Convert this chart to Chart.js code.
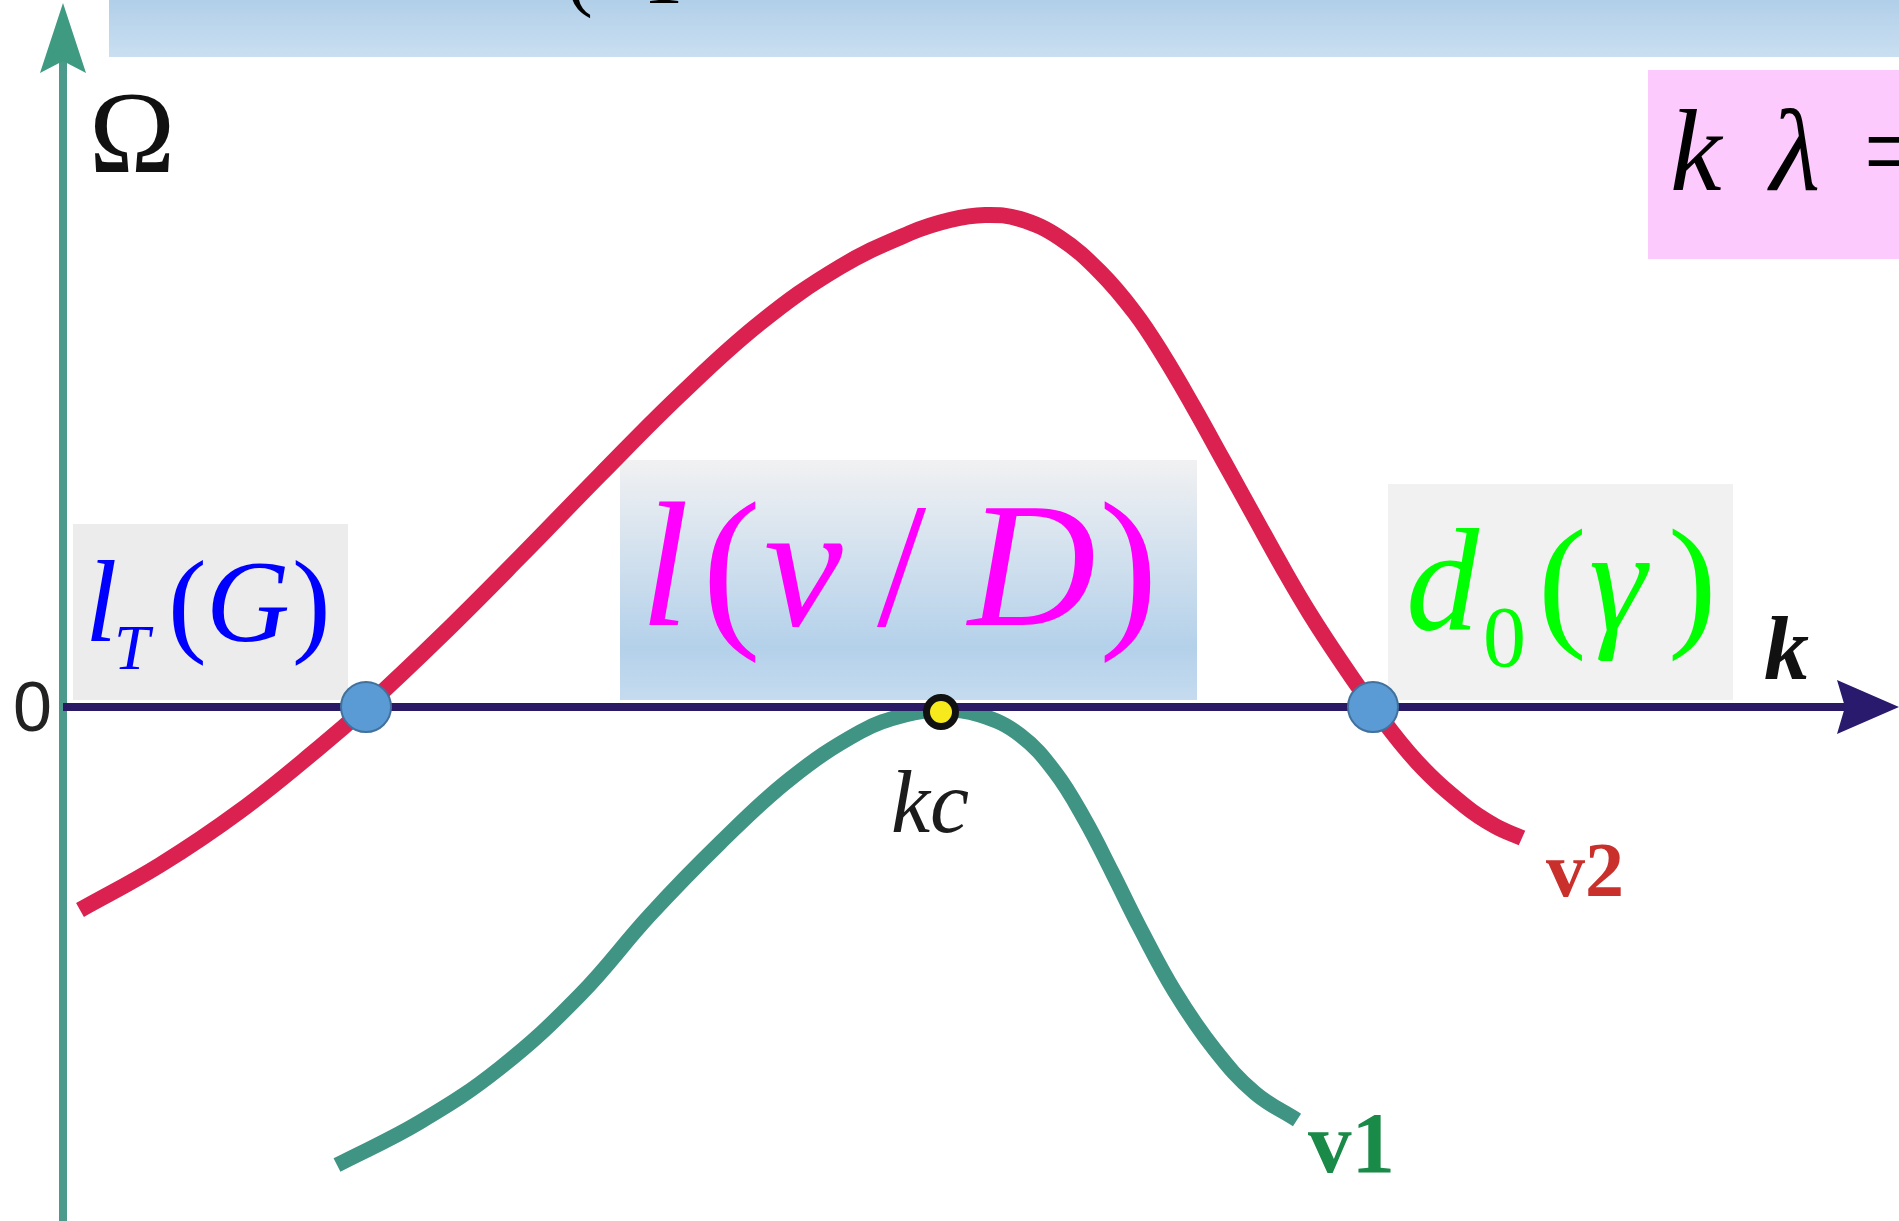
<!DOCTYPE html>
<html>
<head>
<meta charset="utf-8">
<title>Ω(k)</title>
<script src="https://cdn.jsdelivr.net/npm/chart.js@4.4.1/dist/chart.umd.min.js"></script>
<style>
  html, body { margin: 0; padding: 0; background: #ffffff; overflow: hidden; }
  #wrap { position: relative; width: 1899px; height: 1221px; }
</style>
</head>
<body>
<div id="wrap"><canvas id="chart"></canvas></div>
<script>
// Branch v2: growth rate Ω against wavenumber k
const kV2 = [0.17, 0.97, 1.77, 2.57, 3.03, 3.77, 4.57, 5.37, 6.17, 6.97, 7.77, 8.47, 8.87, 9.22,
             9.57, 9.97, 10.37, 10.72, 11.00, 11.30, 11.60, 11.91, 12.21, 12.47, 12.77, 13.10,
             13.54, 14.02, 14.32, 14.59];
const omegaV2 = [-2.03, -1.58, -1.04, -0.40, 0.00, 0.70, 1.50, 2.32, 3.12, 3.84, 4.40, 4.74, 4.87, 4.92,
                 4.88, 4.69, 4.35, 3.94, 3.52, 3.01, 2.47, 1.91, 1.37, 0.93, 0.47, 0.00,
                 -0.55, -0.99, -1.19, -1.31];

// Branch v1: touches Ω = 0 only at the critical wavenumber
const kV1 = [2.74, 3.57, 4.37, 5.17, 5.87, 6.57, 7.27, 7.97, 8.42, 8.78,
             9.17, 9.57, 9.92, 10.22, 10.49, 10.77, 11.12, 11.52, 11.92, 12.34];
const omegaV1 = [-4.58, -4.15, -3.61, -2.88, -2.08, -1.36, -0.72, -0.25, -0.08, -0.03,
                 -0.08, -0.28, -0.65, -1.13, -1.65, -2.21, -2.85, -3.43, -3.86, -4.13];

// Neutral points of v2 and the critical point of v1
const kNeutral = [3.03, 13.10];
const omegaNeutral = [0, 0];
const kCritical = [8.78];
const omegaCritical = [-0.05];

// Visible window of the k and Ω axes
const kWindow = [-0.63, 18.36];
const omegaWindow = [-5.14, 7.07];

const toPoints = (xs, ys) => xs.map((x, i) => ({ x: x, y: ys[i] }));

const SERIF = '"Liberation Serif", "Times New Roman", serif';

// Place a piece of text by the left edge of its ink
function inkText(ctx, text, font, color, inkLeft, baseline) {
  ctx.font = font;
  ctx.fillStyle = color;
  ctx.textAlign = 'left';
  ctx.textBaseline = 'alphabetic';
  const m = ctx.measureText(text);
  ctx.fillText(text, inkLeft + m.actualBoundingBoxLeft, baseline);
}
function inkTextRight(ctx, text, font, color, inkRight, baseline) {
  ctx.font = font;
  ctx.fillStyle = color;
  ctx.textAlign = 'left';
  ctx.textBaseline = 'alphabetic';
  const m = ctx.measureText(text);
  ctx.fillText(text, inkRight - m.actualBoundingBoxRight, baseline);
}

function arrowHead(ctx, tipX, tipY, dx, dy, len, half, notch, color) {
  const px = -dy, py = dx;
  const bx = tipX - dx * len, by = tipY - dy * len;
  ctx.beginPath();
  ctx.moveTo(tipX, tipY);
  ctx.lineTo(bx + px * half, by + py * half);
  ctx.lineTo(tipX - dx * (len - notch), tipY - dy * (len - notch));
  ctx.lineTo(bx - px * half, by - py * half);
  ctx.closePath();
  ctx.fillStyle = color;
  ctx.fill();
}

function fillBox(ctx, x0, y0, x1, y1, fill) {
  ctx.fillStyle = fill;
  ctx.fillRect(x0, y0, x1 - x0, y1 - y0);
}

const decorations = {
  id: 'decorations',
  beforeDraw(chart) {
    const ctx = chart.ctx;
    const W = chart.width;
    ctx.save();
    ctx.fillStyle = '#ffffff';
    ctx.fillRect(0, 0, W, chart.height);

    // title band along the top
    const band = ctx.createLinearGradient(0, 0, 0, 57);
    band.addColorStop(0, '#b1cfe9');
    band.addColorStop(1, '#cadff1');
    fillBox(ctx, 109, 0, W, 57, band);

    // boxes behind the labels
    fillBox(ctx, 1648, 70, W, 259, '#fccafc');
    fillBox(ctx, 73, 524, 348, 700, '#ececec');
    const mid = ctx.createLinearGradient(0, 460, 0, 700);
    mid.addColorStop(0, '#f1f1f2');
    mid.addColorStop(0.78, '#b4d1ea');
    mid.addColorStop(1, '#c5dbef');
    fillBox(ctx, 620, 460, 1197, 700, mid);
    fillBox(ctx, 1388, 484, 1733, 700, '#f1f1f1');
    ctx.restore();
  },
  beforeDatasetsDraw(chart) {
    // Ω axis
    const ctx = chart.ctx;
    const x0 = chart.scales.x.getPixelForValue(0);
    ctx.save();
    ctx.strokeStyle = '#4c9a8b';
    ctx.lineWidth = 8;
    ctx.beginPath();
    ctx.moveTo(x0, 60);
    ctx.lineTo(x0, chart.height);
    ctx.stroke();
    arrowHead(ctx, x0, 3, 0, -1, 70, 23, 12, '#3f9a82');
    ctx.restore();
  },
  beforeDatasetDraw(chart, args) {
    // k axis goes over the curves but under the marked points
    if (args.index !== 2) return;
    const ctx = chart.ctx;
    const x0 = chart.scales.x.getPixelForValue(0);
    const y0 = chart.scales.y.getPixelForValue(0);
    const W = chart.width;
    ctx.save();
    ctx.strokeStyle = '#2a1a66';
    ctx.lineWidth = 8;
    ctx.beginPath();
    ctx.moveTo(x0, y0);
    ctx.lineTo(W - 50, y0);
    ctx.stroke();
    arrowHead(ctx, W, y0, 1, 0, 62, 27, 8, '#2a1a6e');
    ctx.restore();
  },
  afterDatasetsDraw(chart) {
    const ctx = chart.ctx;
    ctx.save();

    // cut-off title line
    inkTextRight(ctx, '(', '80px ' + SERIF, '#000000', 591, 1);
    inkText(ctx, '1', '80px ' + SERIF, '#000000', 650, 3);

    // axis names
    inkText(ctx, 'Ω', '116px ' + SERIF, '#111111', 95, 172);
    inkText(ctx, 'k', 'italic bold 90px ' + SERIF, '#111111', 1765, 679);
    inkText(ctx, '0', '70px "Liberation Sans", Arial, sans-serif', '#222222', 15, 731);

    // k λ =
    inkText(ctx, 'k', 'italic 116px ' + SERIF, '#000000', 1673, 190);
    inkText(ctx, 'λ', 'italic 116px ' + SERIF, '#000000', 1767, 190);
    inkText(ctx, '=', '116px ' + SERIF, '#000000', 1868, 190);

    // l_T(G)
    const blue = '#0000ff';
    inkText(ctx, 'l', 'italic 116px ' + SERIF, blue, 91, 641);
    inkText(ctx, 'T', 'italic 64px ' + SERIF, blue, 118, 669);
    inkText(ctx, '(', '116px ' + SERIF, blue, 173, 641);
    inkText(ctx, 'G', 'italic 116px ' + SERIF, blue, 212, 641);
    inkText(ctx, ')', '116px ' + SERIF, blue, 295, 641);

    // l(v / D)
    const mag = '#ff00ff';
    inkText(ctx, 'l', 'italic 177px ' + SERIF, mag, 649, 625);
    inkText(ctx, '(', '177px ' + SERIF, mag, 709, 625);
    inkText(ctx, 'v', 'italic 177px ' + SERIF, mag, 766, 625);
    inkText(ctx, '/', '177px ' + SERIF, mag, 877, 625);
    inkText(ctx, 'D', 'italic 177px ' + SERIF, mag, 966, 625);
    inkText(ctx, ')', '177px ' + SERIF, mag, 1104, 625);

    // d_0(γ)
    const green = '#00ff00';
    inkText(ctx, 'd', 'italic 146px ' + SERIF, green, 1410, 630);
    inkText(ctx, '0', '86px ' + SERIF, green, 1486, 666);
    inkText(ctx, '(', '146px ' + SERIF, green, 1544, 630);
    inkText(ctx, 'γ', 'italic 146px ' + SERIF, green, 1591, 630);
    inkText(ctx, ')', '146px ' + SERIF, green, 1672, 630);

    // critical wavenumber and branch names
    inkText(ctx, 'kc', 'italic 88px ' + SERIF, '#1c1c1c', 893, 832);
    inkText(ctx, 'v2', 'bold 78px ' + SERIF, '#c9302c', 1546, 896);
    inkText(ctx, 'v1', 'bold 87px ' + SERIF, '#1a8a48', 1308, 1172);

    ctx.restore();
  }
};

new Chart(document.getElementById('chart'), {
  type: 'scatter',
  data: {
    datasets: [
      {
        label: 'v2',
        data: toPoints(kV2, omegaV2),
        showLine: true,
        borderColor: '#db2150',
        borderWidth: 16,
        borderCapStyle: 'butt',
        tension: 0.4,
        pointRadius: 0,
        order: 3
      },
      {
        label: 'v1',
        data: toPoints(kV1, omegaV1),
        showLine: true,
        borderColor: '#3f9484',
        borderWidth: 15,
        borderCapStyle: 'butt',
        tension: 0.4,
        pointRadius: 0,
        order: 2
      },
      {
        label: 'neutral',
        data: toPoints(kNeutral, omegaNeutral),
        showLine: false,
        pointRadius: 25,
        pointBackgroundColor: '#5b9bd5',
        pointBorderColor: '#41719c',
        pointBorderWidth: 2,
        order: 1
      },
      {
        label: 'kc',
        data: toPoints(kCritical, omegaCritical),
        showLine: false,
        pointRadius: 14.5,
        pointBackgroundColor: '#f6ea1c',
        pointBorderColor: '#111111',
        pointBorderWidth: 7,
        order: 0
      }
    ]
  },
  options: {
    responsive: true,
    maintainAspectRatio: false,
    animation: false,
    events: [],
    layout: { padding: 0, autoPadding: false },
    plugins: { legend: { display: false }, tooltip: { enabled: false }, title: { display: false } },
    scales: {
      x: { type: 'linear', min: kWindow[0], max: kWindow[1], display: false },
      y: { type: 'linear', min: omegaWindow[0], max: omegaWindow[1], display: false }
    }
  },
  plugins: [decorations]
});
</script>
</body>
</html>
